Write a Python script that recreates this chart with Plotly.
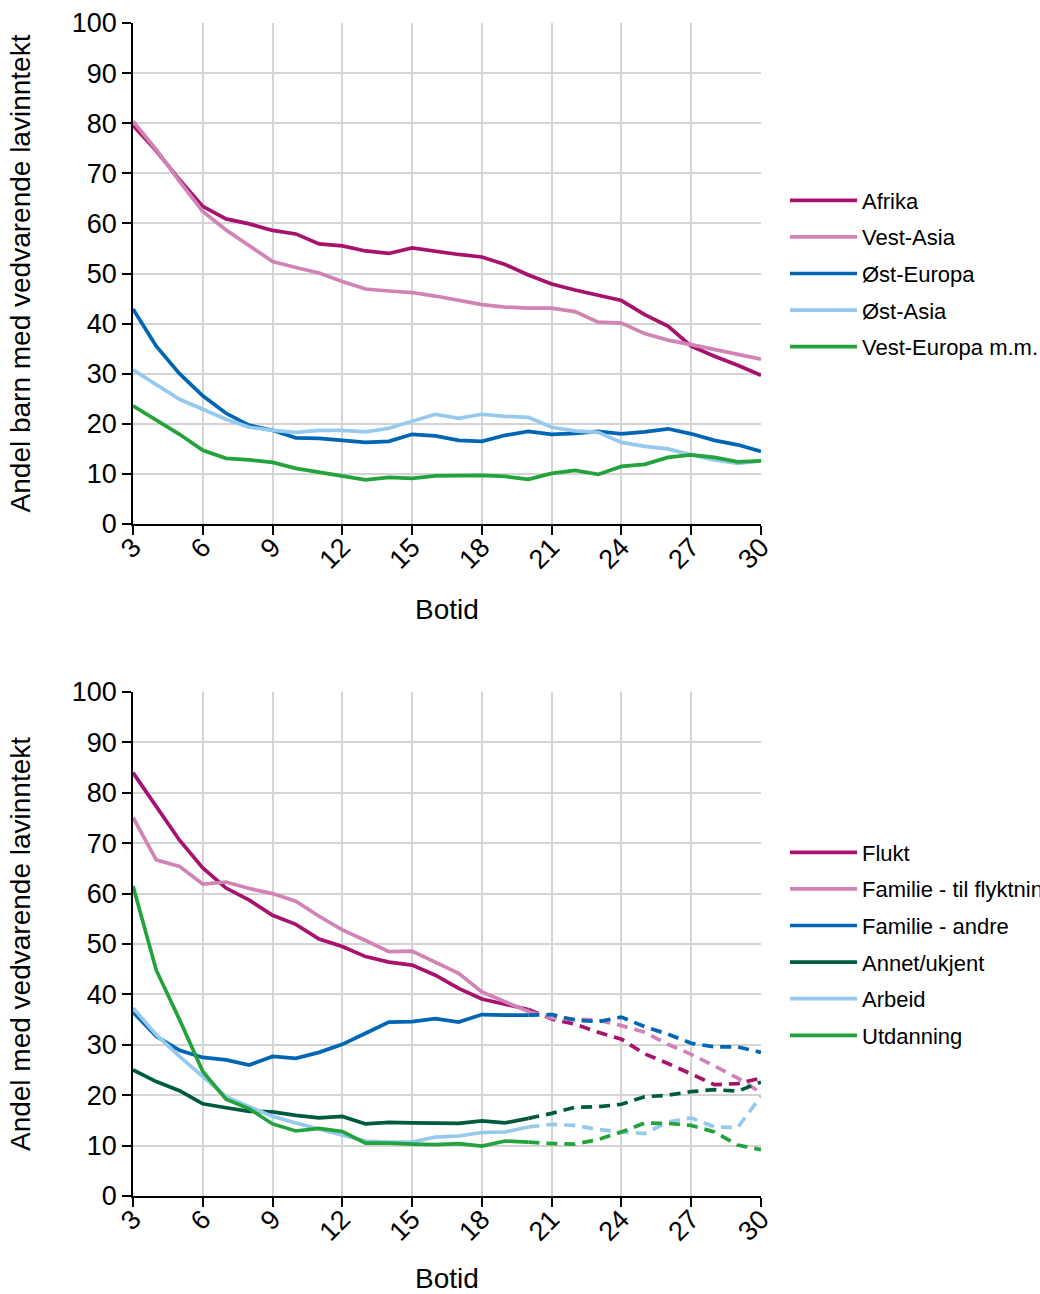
import plotly.graph_objects as go

# ---------------- data ----------------
botid = list(range(3, 31))

top_names = ["Afrika", "Vest-Asia", "Øst-Europa", "Øst-Asia", "Vest-Europa m.m."]
afrika = [79.6, 74.5, 68.7, 63.4, 60.9, 59.9, 58.6, 57.9, 55.9, 55.5, 54.5, 54.0, 55.1, 54.4,
          53.8, 53.3, 51.8, 49.7, 47.9, 46.7, 45.6, 44.6, 41.8, 39.5, 35.5, 33.5, 31.7, 29.7]
vest_asia = [80.4, 74.7, 68.4, 62.4, 58.7, 55.6, 52.4, 51.2, 50.1, 48.4, 46.9, 46.5, 46.2, 45.5,
             44.7, 43.8, 43.3, 43.1, 43.1, 42.4, 40.3, 40.1, 38.0, 36.7, 35.8, 34.8, 33.8, 32.9]
ost_europa = [42.9, 35.5, 30.0, 25.6, 22.1, 19.7, 18.7, 17.2, 17.1, 16.7, 16.3, 16.5, 17.9, 17.6,
              16.7, 16.5, 17.7, 18.5, 17.9, 18.1, 18.5, 18.0, 18.4, 19.0, 18.0, 16.7, 15.8, 14.5]
ost_asia = [30.8, 27.8, 24.9, 22.9, 20.9, 19.3, 18.7, 18.3, 18.7, 18.7, 18.4, 19.1, 20.5, 21.9,
            21.1, 21.9, 21.5, 21.3, 19.3, 18.6, 18.3, 16.3, 15.5, 15.0, 13.8, 12.8, 12.1, 12.6]
vest_europa = [23.6, 20.8, 17.9, 14.7, 13.1, 12.8, 12.3, 11.1, 10.3, 9.6, 8.8, 9.3, 9.1, 9.6,
               9.7, 9.7, 9.5, 8.9, 10.1, 10.7, 9.9, 11.5, 11.9, 13.3, 13.8, 13.3, 12.4, 12.6]
top_values = [afrika, vest_asia, ost_europa, ost_asia, vest_europa]

bottom_names = ["Flukt", "Familie - til flyktning", "Familie - andre", "Annet/ukjent", "Arbeid", "Utdanning"]
flukt = [84.0, 77.4, 70.6, 65.1, 61.1, 58.7, 55.7, 53.9, 51.0, 49.5, 47.5, 46.4, 45.8, 43.8,
         41.2, 39.1, 38.1, 37.0, 35.1, 34.1, 32.5, 31.1, 28.2, 26.3, 24.2, 22.1, 22.3, 23.4]
familie_flykt = [75.1, 66.7, 65.4, 61.9, 62.3, 61.0, 60.0, 58.5, 55.5, 52.8, 50.7, 48.5, 48.6, 46.5,
                 44.2, 40.5, 38.5, 36.6, 35.3, 35.1, 34.9, 33.8, 32.5, 30.1, 28.1, 25.8, 23.4, 20.5]
familie_andre = [36.5, 31.7, 28.9, 27.5, 27.0, 26.0, 27.7, 27.3, 28.5, 30.1, 32.3, 34.5, 34.6, 35.2,
                 34.5, 36.0, 35.9, 35.9, 36.0, 34.9, 34.6, 35.5, 33.6, 32.1, 30.3, 29.6, 29.6, 28.5]
annet = [25.0, 22.7, 20.9, 18.3, 17.5, 16.8, 16.7, 16.0, 15.5, 15.8, 14.3, 14.6, 14.5, 14.4,
         14.4, 14.9, 14.5, 15.4, 16.4, 17.6, 17.7, 18.2, 19.7, 20.0, 20.7, 21.1, 20.8, 22.6]
arbeid = [37.3, 32.0, 27.7, 23.7, 19.7, 17.7, 15.8, 14.5, 13.3, 12.1, 10.9, 10.7, 10.7, 11.7,
          11.9, 12.6, 12.7, 13.7, 14.2, 14.0, 13.2, 12.7, 12.4, 14.7, 15.5, 13.7, 13.6, 19.8]
utdanning = [61.5, 44.8, 35.0, 24.7, 19.2, 17.3, 14.3, 12.9, 13.4, 12.8, 10.5, 10.5, 10.3, 10.2,
             10.4, 9.9, 10.9, 10.7, 10.4, 10.3, 11.2, 12.7, 14.5, 14.4, 14.0, 12.7, 10.1, 9.2]
bottom_values = [flukt, familie_flykt, familie_andre, annet, arbeid, utdanning]
solid_until = 20  # botid after which the bottom series are dashed

x_ticks = list(range(3, 31, 3))
y_ticks = list(range(0, 101, 10))

# ---------------- styles ----------------
top_colors = ["#a7126e", "#d283b6", "#0066b3", "#95c9ee", "#24a33d"]
bottom_colors = ["#a7126e", "#d283b6", "#0066b3", "#005a3f", "#95c9ee", "#24a33d"]
FONT = "Liberation Sans, Arial, sans-serif"
LW = 3.7

fig = go.Figure()

for name, vals, col in zip(top_names, top_values, top_colors):
    fig.add_trace(go.Scatter(x=botid, y=vals, name=name, mode="lines", legendgroup="t_" + name,
                             line=dict(color=col, width=LW),
                             xaxis="x", yaxis="y", legend="legend"))

for name, vals, col in zip(bottom_names, bottom_values, bottom_colors):
    xs = [b for b in botid if b <= solid_until]
    ys = [v for b, v in zip(botid, vals) if b <= solid_until]
    xd = [b for b in botid if b >= solid_until]
    yd = [v for b, v in zip(botid, vals) if b >= solid_until]
    fig.add_trace(go.Scatter(x=xs, y=ys, name=name, mode="lines", legendgroup="b_" + name,
                             line=dict(color=col, width=LW),
                             xaxis="x2", yaxis="y2", legend="legend2"))
    fig.add_trace(go.Scatter(x=xd, y=yd, name=name, mode="lines", showlegend=False,
                             legendgroup="b_" + name,
                             line=dict(color=col, width=LW, dash="11px,7px"),
                             xaxis="x2", yaxis="y2", legend="legend2"))

TICKSIZE = 27
TITLESIZE = 28
LEGSIZE = 22

axis_common = dict(showline=True, linecolor="black", linewidth=1.5,
                   ticks="outside", ticklen=9, tickwidth=1.5, tickcolor="black",
                   showgrid=True, gridcolor="#d4d4d4", gridwidth=1.8,
                   zeroline=False, tickfont=dict(size=TICKSIZE, color="black", family=FONT),
                   mirror=False)

xcommon = dict(axis_common, range=[3, 30], tickmode="array", tickvals=x_ticks,
               ticktext=[str(t) for t in x_ticks], tickangle=-45, ticklabelstandoff=-14)
ycommon = dict(axis_common, range=[0, 100], tickmode="array", tickvals=y_ticks,
               ticktext=[str(t) for t in y_ticks])

W, H = 1040, 1294
ML, MR, MT, MB = 133, 279, 23, 98
plot_h = H - MT - MB
def frac(y_px):
    return (H - MB - y_px) / plot_h

legend_common = dict(xanchor="left", x=1.0382, yanchor="middle",
                     font=dict(size=LEGSIZE, color="black", family=FONT), itemwidth=67,
                     bgcolor="rgba(0,0,0,0)", tracegroupgap=5, traceorder="grouped")

title_font = dict(size=TITLESIZE, color="black", family=FONT)

fig.update_layout(
    width=W, height=H,
    margin=dict(l=ML, r=MR, t=MT, b=MB, autoexpand=False),
    paper_bgcolor="white", plot_bgcolor="white",
    font=dict(family=FONT, color="black"),
    xaxis=dict(xcommon, domain=[0, 1], anchor="y",
               title=dict(text="Botid", font=title_font, standoff=26)),
    yaxis=dict(ycommon, domain=[frac(524), 1.0], anchor="x",
               title=dict(text="Andel barn med vedvarende lavinntekt", font=title_font, standoff=33)),
    xaxis2=dict(xcommon, domain=[0, 1], anchor="y2",
                title=dict(text="Botid", font=title_font, standoff=34)),
    yaxis2=dict(ycommon, domain=[0, frac(692)], anchor="x2",
                title=dict(text="Andel med vedvarende lavinntekt", font=title_font, standoff=33)),
    legend=dict(legend_common, y=(1.0 + frac(524)) / 2),
    legend2=dict(legend_common, y=frac(692) / 2),
    showlegend=True,
)

fig.write_html("out.html",
               config={"displayModeBar": False},
               post_script="document.body.style.margin='0';document.body.style.overflow='hidden';")
